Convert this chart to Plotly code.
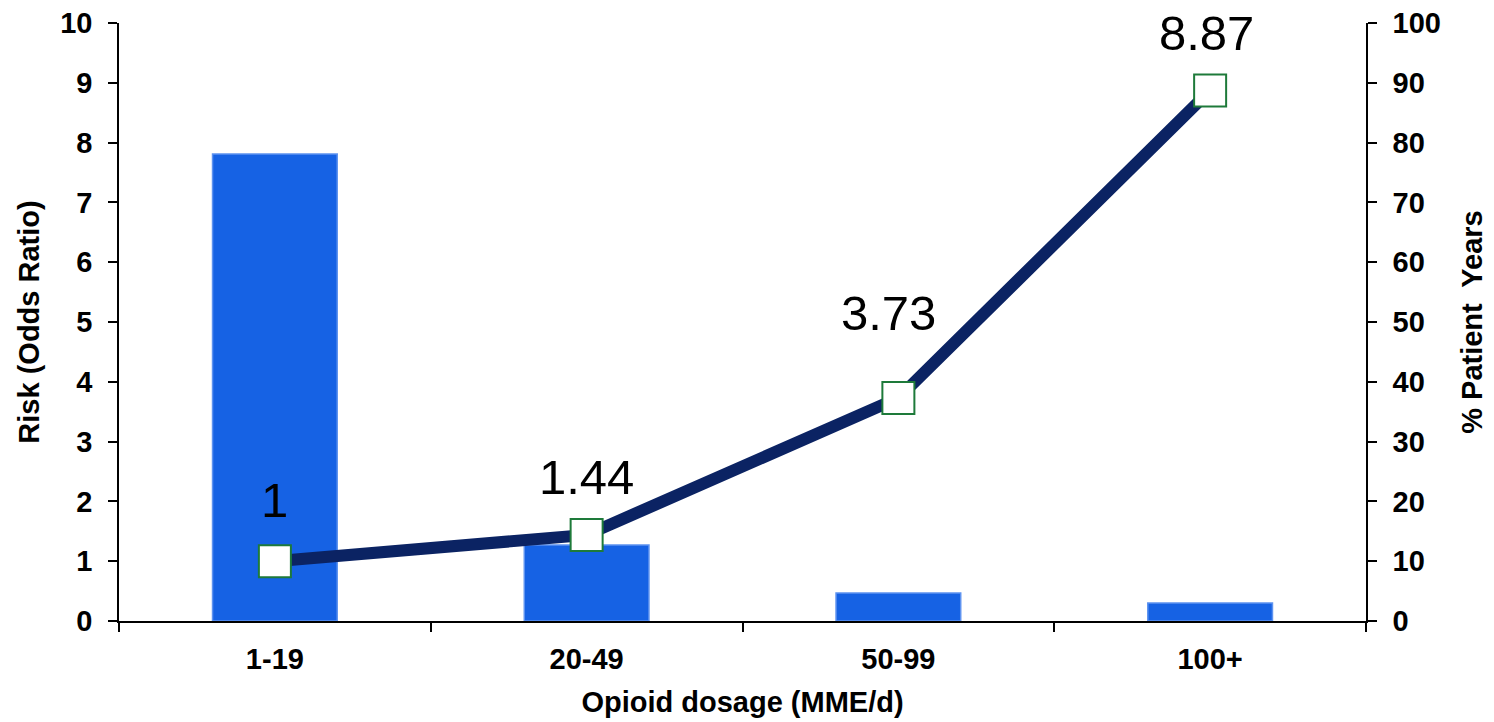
import plotly.graph_objects as go

# Dosage bands and the two series plotted against them
categories = ["1-19", "20-49", "50-99", "100+"]
patient_years_pct = [78.1, 12.7, 4.7, 3.0]      # bars, right axis (%)
odds_ratio = [1, 1.44, 3.73, 8.87]               # line, left axis
odds_labels = ["1", "1.44", "3.73", "8.87"]
label_shift = [61, 58, 85, 58]                   # vertical offset of value labels (px)
label_xshift = [0, 0, -10, -4]

left_ticks = list(range(0, 11))
right_ticks = list(range(0, 101, 10))

FONT = "Arial, Liberation Sans, sans-serif"
TICK_SIZE = 29
TITLE_SIZE = 29

fig = go.Figure()

fig.add_trace(go.Bar(
    x=categories,
    y=patient_years_pct,
    yaxis="y",
    width=0.4,
    marker=dict(color="#1662E4", line=dict(color="#5E93F0", width=1.5)),
    showlegend=False,
    hoverinfo="skip",
))

fig.add_trace(go.Scatter(
    x=categories,
    y=odds_ratio,
    yaxis="y2",
    mode="lines+markers",
    line=dict(color="#0B2363", width=12),
    marker=dict(symbol="square", size=32, color="white",
                line=dict(color="#1E7A3A", width=2)),
    showlegend=False,
    hoverinfo="skip",
))

for cat, val, lab, dy, dx in zip(categories, odds_ratio, odds_labels, label_shift, label_xshift):
    fig.add_annotation(
        x=cat, y=val, xref="x", yref="y2",
        text=lab, showarrow=False,
        yshift=dy, xshift=dx,
        font=dict(family=FONT, size=49, color="black"),
    )

fig.update_layout(
    width=1494, height=722,
    margin=dict(l=119, r=128, t=23, b=101),
    paper_bgcolor="white",
    plot_bgcolor="white",
    font=dict(family=FONT, color="black"),
    xaxis=dict(
        type="category",
        automargin=False,
        tickson="boundaries",
        tickvals=categories,
        ticktext=[f"<b>{c}</b>" for c in categories],
        ticks="outside", ticklen=9, tickwidth=1.5, tickcolor="black",
        showline=True, linecolor="black", linewidth=2,
        showgrid=False,
        tickfont=dict(family=FONT, size=TICK_SIZE, color="black"),
        ticklabelstandoff=11,
        title=dict(text="<b>Opioid dosage (MME/d)</b>",
                   font=dict(family=FONT, size=TITLE_SIZE, color="black"), standoff=18),
        range=[-0.5, 3.5],
    ),
    yaxis=dict(
        side="right",
        automargin=False,
        range=[0, 100],
        tickvals=right_ticks,
        ticktext=[f"<b>{t}</b>" for t in right_ticks],
        ticks="outside", ticklen=9, tickwidth=1.5, tickcolor="black",
        showline=True, linecolor="black", linewidth=1.5,
        showgrid=False, zeroline=False,
        tickfont=dict(family=FONT, size=TICK_SIZE, color="black"),
        ticklabelstandoff=10,
        title=dict(text="<b>% Patient  Years</b>",
                   font=dict(family=FONT, size=TITLE_SIZE, color="black"), standoff=22),
    ),
    yaxis2=dict(
        overlaying="y",
        side="left",
        automargin=False,
        range=[0, 10],
        tickvals=left_ticks,
        ticktext=[f"<b>{t}</b>" for t in left_ticks],
        ticks="outside", ticklen=9, tickwidth=1.5, tickcolor="black",
        showline=True, linecolor="black", linewidth=1.5,
        showgrid=False, zeroline=False,
        tickfont=dict(family=FONT, size=TICK_SIZE, color="black"),
        ticklabelstandoff=10,
        title=dict(text="<b>Risk (Odds Ratio)</b>",
                   font=dict(family=FONT, size=TITLE_SIZE, color="black"), standoff=12),
    ),
)

fig.write_html("out.html")
